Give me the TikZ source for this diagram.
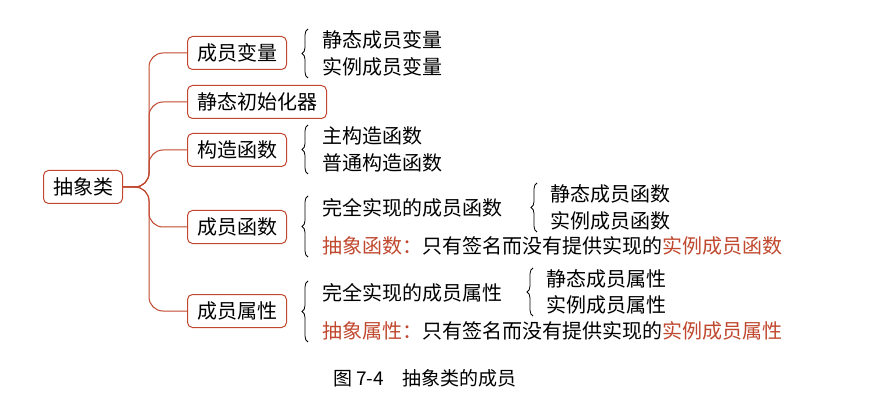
\documentclass[tikz,border=0pt]{standalone}
\usepackage{fontspec}
\setmainfont{Noto Sans CJK SC}
\newfontfamily\capfont{Noto Sans CJK SC}
\usepackage{xcolor}
\usetikzlibrary{positioning,decorations.pathreplacing}
\definecolor{mapred}{HTML}{C0482E}

\begin{document}
\begin{tikzpicture}[x=1pt, y=-1pt, every node/.style={font=\fontsize{20}{22}\selectfont, inner sep=0pt}, topic/.style={rectangle, rounded corners=5pt, draw=mapred, line width=1pt, minimum height=33pt, inner xsep=9.5pt}, leaf/.style={anchor=west}, conn/.style={draw=mapred, line width=1pt, rounded corners=14pt}, brace/.style={decorate, decoration={brace, amplitude=6pt}, line width=0.8pt}]
\useasboundingbox (0,0) rectangle (893,403);
\node[topic] (root) at (83,187) {抽象类};
\node[topic, anchor=west] (vars) at (187,53) {成员变量};
\node[topic, anchor=west] (init) at (187,102) {静态初始化器};
\node[topic, anchor=west] (ctor) at (187,150) {构造函数};
\node[topic, anchor=west] (func) at (187,227) {成员函数};
\node[topic, anchor=west] (prop) at (187,311) {成员属性};

\draw[conn] (root.east) -- ++(26,0) |- (vars.west);
\draw[conn] (root.east) -- ++(26,0) |- (init.west);
\draw[conn] (root.east) -- ++(26,0) |- (ctor.west);
\draw[conn] (root.east) -- ++(26,0) |- (func.west);
\draw[conn] (root.east) -- ++(26,0) |- (prop.west);

% member variables
\node[leaf] (vars1) at (322,40) {静态成员变量};
\node[leaf] (vars2) at (322,67) {实例成员变量};
\draw[brace] (308,78) -- (308,29);
% constructors
\node[leaf] (ctor1) at (322,136) {主构造函数};
\node[leaf] (ctor2) at (322,163) {普通构造函数};
\draw[brace] (308,174) -- (308,125);
% member functions
\node[leaf] (func1) at (322,208) {完全实现的成员函数};
\node[leaf] (func2) at (322,246) {\textcolor{mapred}{抽象函数：}只有签名而没有提供实现的\textcolor{mapred}{实例成员函数}};
\node[leaf] (func11) at (550,194) {静态成员函数};
\node[leaf] (func12) at (550,221) {实例成员函数};
\draw[brace] (308,257) -- (308,196);
\draw[brace] (537,232) -- (537,183);
% member properties
\node[leaf] (prop1) at (322,293) {完全实现的成员属性};
\node[leaf] (prop2) at (322,331) {\textcolor{mapred}{抽象属性：}只有签名而没有提供实现的\textcolor{mapred}{实例成员属性}};
\node[leaf] (prop11) at (546,279) {静态成员属性};
\node[leaf] (prop12) at (546,305) {实例成员属性};
\draw[brace] (308,342) -- (308,281);
\draw[brace] (533,316) -- (533,268);

\node[font=\fontsize{19}{21}\selectfont\capfont] (caption) at (425,378) {图 7-4\quad 抽象类的成员};
\end{tikzpicture}
\end{document}
